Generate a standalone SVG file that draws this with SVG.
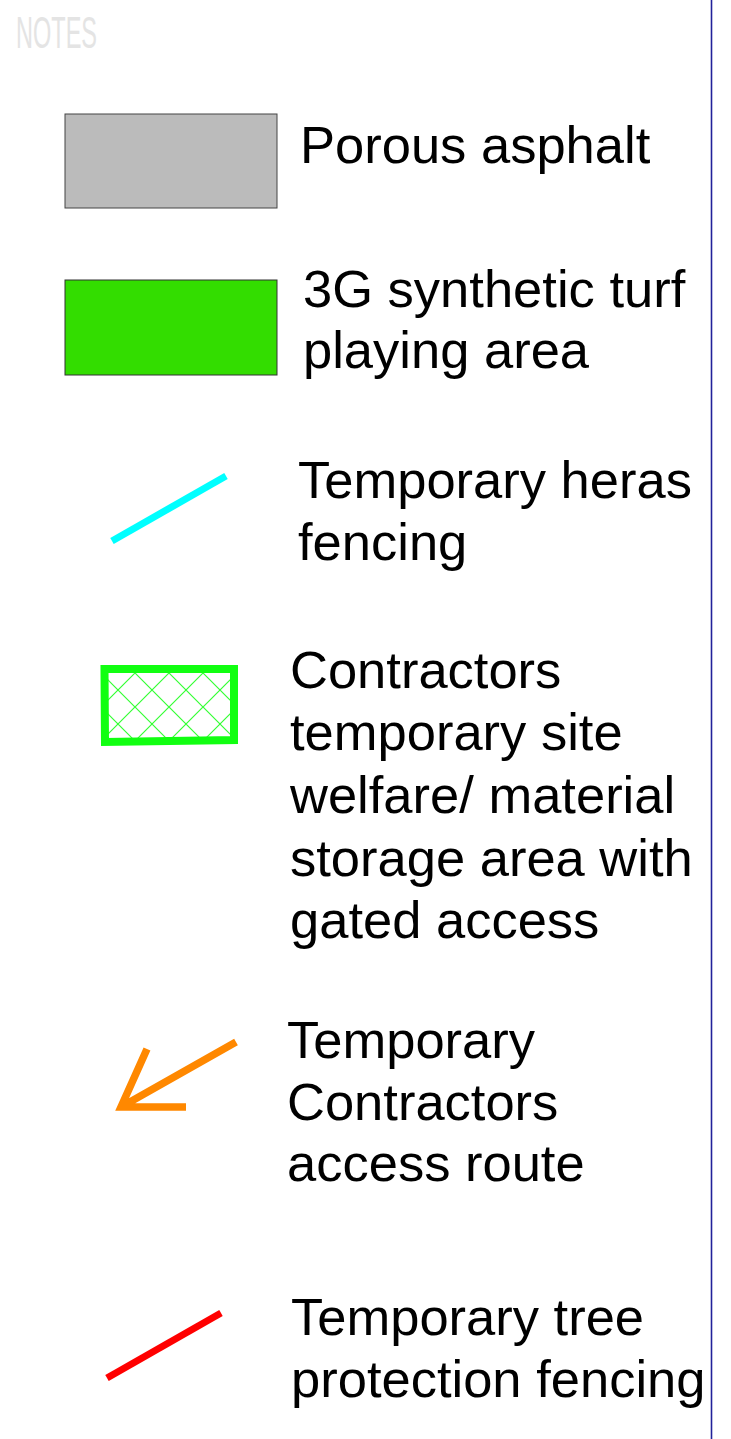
<svg xmlns="http://www.w3.org/2000/svg" width="731" height="1439" viewBox="0 0 731 1439">
<style>
.lbl{font-family:"Liberation Sans",Arial,sans-serif;font-size:52.5px;fill:#000}
.notes{font-family:"Liberation Sans",Arial,sans-serif;font-size:44px;fill:#e4e4e4}
.sym{fill:none;stroke-linecap:butt}
</style>
<defs>
<pattern id="hatch" patternUnits="userSpaceOnUse" x="135" y="673" width="34" height="34">
<path d="M0,0 L34,34 M34,0 L0,34" stroke="#33ff33" stroke-width="1.2" fill="none"/>
</pattern>
</defs>
<rect width="731" height="1439" fill="#fff"/>
<text class="notes" x="16" y="48" textLength="81" lengthAdjust="spacingAndGlyphs">NOTES</text>
<line x1="711.5" y1="0" x2="711.5" y2="1439" stroke="#22229a" stroke-width="1.6"/>
<g id="porous-asphalt">
<rect x="65" y="114" width="212" height="94" fill="#bbbbbb" stroke="#444" stroke-width="1"/>
<text class="lbl" x="300" y="163">Porous asphalt</text>
</g>
<g id="synthetic-turf">
<rect x="65" y="280" width="212" height="95" fill="#33dd00" stroke="#333" stroke-width="1"/>
<text class="lbl" x="303" y="307">3G synthetic turf</text>
<text class="lbl" x="303" y="368">playing area</text>
</g>
<g id="heras-fencing">
<line class="sym" x1="112" y1="541" x2="226" y2="476" stroke="#00ffff" stroke-width="7"/>
<text class="lbl" x="298" y="498">Temporary heras</text>
<text class="lbl" x="298" y="560">fencing</text>
</g>
<g id="welfare-area">
<rect x="106" y="671" width="127" height="68" fill="url(#hatch)"/>
<polygon points="104.5,669 234,669 234,740 105,742" fill="none" stroke="#11ff11" stroke-width="8"/>
<text class="lbl" x="290" y="688">Contractors</text>
<text class="lbl" x="290" y="750">temporary site</text>
<text class="lbl" x="290" y="813">welfare/ material</text>
<text class="lbl" x="290" y="876">storage area with</text>
<text class="lbl" x="290" y="938">gated access</text>
</g>
<g id="access-route">
<path class="sym" d="M236,1042 L121,1107 M147,1049 L121,1107 L186,1107" stroke="#ff8800" stroke-width="7.5"/>
<text class="lbl" x="287" y="1058">Temporary</text>
<text class="lbl" x="287" y="1120">Contractors</text>
<text class="lbl" x="287" y="1181">access route</text>
</g>
<g id="tree-fencing">
<line class="sym" x1="107" y1="1378" x2="221" y2="1313" stroke="#ff0000" stroke-width="7"/>
<text class="lbl" x="291" y="1335">Temporary tree</text>
<text class="lbl" x="291" y="1397">protection fencing</text>
</g>
<g id="connectors"/>
</svg>
